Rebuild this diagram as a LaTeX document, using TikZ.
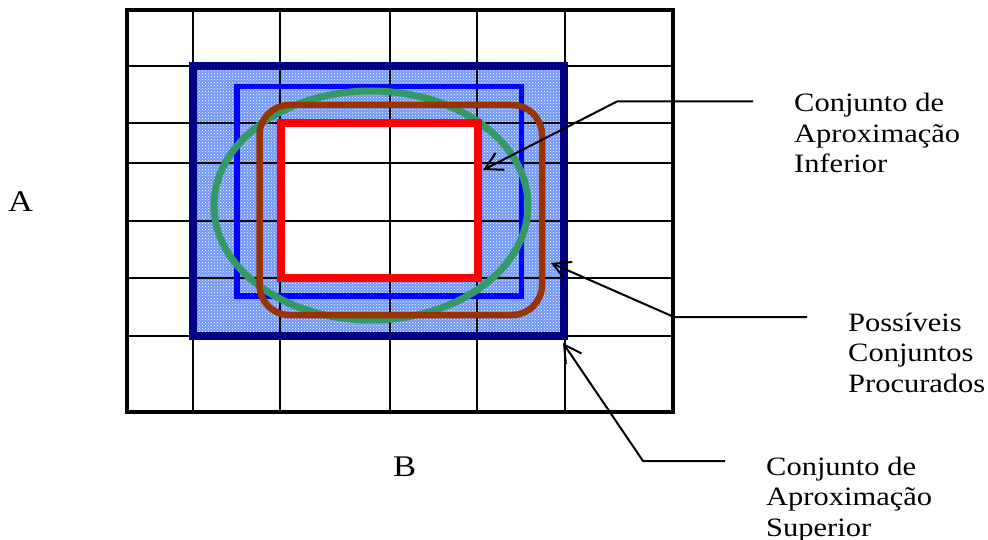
\documentclass[tikz,border=0pt]{standalone}
\usepackage{fontspec}
\setmainfont{Liberation Serif}
\newfontfamily\lblfont[FakeStretch=1.15]{Liberation Serif}
\usetikzlibrary{arrows.meta,patterns}
\definecolor{navyc}{RGB}{0,0,128}
\definecolor{bluec}{RGB}{0,0,255}
\definecolor{greenc}{RGB}{51,153,102}
\definecolor{brownc}{RGB}{153,51,0}
\definecolor{redc}{RGB}{255,0,0}
\definecolor{hatchc}{RGB}{112,150,248}
\tikzset{
  gridline/.style={draw=black, line width=1.6pt},
  frameline/.style={draw=black, line width=4pt},
  arrowline/.style={draw=black, line width=2pt, -{Straight Barb[length=17pt,width=19pt,line width=2pt]}},
  lbl/.style={inner sep=0pt, align=left, anchor=base west, font=\lblfont\fontsize{26.5}{30.5}\selectfont},
  axislbl/.style={inner sep=0pt, anchor=base west, font=\lblfont\fontsize{30}{36}\selectfont}
}
\begin{document}
\begin{tikzpicture}[x=1pt,y=-1pt]
\useasboundingbox (0,0) rectangle (988,540);
% hatched region: upper approximation minus lower approximation
\fill[hatchc, even odd rule] (193,66) rectangle (564,336) (281,123.5) rectangle (477.5,278);
\pattern[pattern=crosshatch dots, pattern color=white, even odd rule] (193,66) rectangle (564,336) (281,123.5) rectangle (477.5,278);
% grid
\foreach \gx in {193,280,390,477,565} \draw[gridline] (\gx,10) -- (\gx,412);
\foreach \gy in {66,123,163,221,278,336} \draw[gridline] (127,\gy) -- (673,\gy);
\draw[frameline] (127,10) rectangle (673,412);
% sets
\draw[navyc, line width=7.5pt] (193,66) rectangle (564,336);
\draw[bluec, line width=5.5pt] (237,86.5) rectangle (521.5,296);
\draw[greenc, line width=7pt] (371,205.5) ellipse [x radius=157, y radius=114.5];
\draw[brownc, line width=6.5pt, rounded corners=30pt] (259.5,105) rectangle (542,315);
\draw[redc, line width=8pt] (281,123.5) rectangle (477.5,278);
% labels
\node[axislbl] (labA) at (8,212) {A};
\node[axislbl] (labB) at (393,476) {B};
\node[lbl] (lblInf) at (794,173) {Conjunto de\\Aproximação\\Inferior};
\node[lbl] (lblPos) at (848,392) {Possíveis\\Conjuntos\\Procurados};
\node[lbl] (lblSup) at (766,536) {Conjunto de\\Aproximação\\Superior};
% connectors
\coordinate (infEnd) at (753,101.5);
\coordinate (infElbow) at (617,101.5);
\coordinate (infTip) at (483,170);
\coordinate (posEnd) at (807,317);
\coordinate (posElbow) at (674,317);
\coordinate (posTip) at (551,263);
\coordinate (supEnd) at (725,461);
\coordinate (supElbow) at (643,461);
\coordinate (supTip) at (563,343);
\draw[arrowline] (infEnd) -- (infElbow) -- (infTip);
\draw[arrowline] (posEnd) -- (posElbow) -- (posTip);
\draw[arrowline] (supEnd) -- (supElbow) -- (supTip);
\end{tikzpicture}
\end{document}
